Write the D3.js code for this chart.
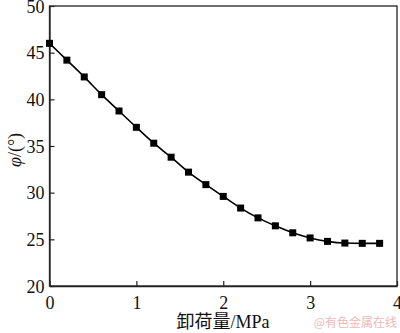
<!DOCTYPE html>
<html>
<head>
<meta charset="utf-8">
<script src="https://cdn.jsdelivr.net/npm/d3@7"></script>
<style>
  body { margin: 0; background: #fff; }
  svg text { font-family: "Liberation Serif", "Times New Roman", "Noto Sans CJK SC", serif; }
</style>
</head>
<body>
<div id="chart"></div>
<script>
const WIDTH = 400;
const HEIGHT = 333;

// unloading amount (MPa) and friction angle (deg)
const unload = [0, 0.2, 0.4, 0.6, 0.8, 1.0, 1.2, 1.4, 1.6, 1.8, 2.0, 2.2, 2.4, 2.6, 2.8, 3.0, 3.2, 3.4, 3.6, 3.8];
const phi = [46.0, 44.2, 42.4, 40.5, 38.75, 37.0, 35.3, 33.8, 32.2, 30.86, 29.6, 28.35, 27.3, 26.45, 25.7, 25.15, 24.78, 24.6, 24.57, 24.57];
const xTicks = [0, 1, 2, 3, 4];
const yTicks = [20, 25, 30, 35, 40, 45, 50];

const margin = {left: 49.5, right: 3, top: 6, bottom: 47};

const svg = d3.select('#chart').append('svg')
  .attr('width', WIDTH)
  .attr('height', HEIGHT);

const x = d3.scaleLinear().domain([0, 4]).range([margin.left, WIDTH - margin.right]);
const y = d3.scaleLinear().domain([20, 50]).range([HEIGHT - margin.bottom, margin.top]);

// 边框
svg.append('rect')
  .attr('x', x(0)).attr('y', y(50))
  .attr('width', x(4) - x(0)).attr('height', y(20) - y(50))
  .attr('fill', 'none')
  .attr('stroke', '#222')
  .attr('stroke-width', 1.3);

// 坐标轴（刻度朝内）
const xAxis = svg.append('g')
  .attr('transform', 'translate(0,' + y(20) + ')')
  .call(d3.axisBottom(x).tickValues(xTicks).tickSizeInner(-5).tickSizeOuter(0).tickPadding(10).tickFormat(d3.format('d')));
const yAxis = svg.append('g')
  .attr('transform', 'translate(' + x(0) + ',0)')
  .call(d3.axisLeft(y).tickValues(yTicks).tickSizeInner(-5).tickSizeOuter(0).tickPadding(5).tickFormat(d3.format('d')));

[xAxis, yAxis].forEach(a => {
  a.select('.domain').attr('stroke', '#222').attr('stroke-width', 1.3);
  a.selectAll('.tick line').attr('stroke', '#222').attr('stroke-width', 1.2);
  a.selectAll('.tick text')
    .attr('fill', '#111')
    .style('font-size', '18px')
    .style('font-family', '"Liberation Serif", serif');
});
yAxis.selectAll('.tick text').attr('dy', '0.35em');

// 折线
const pts = unload.map((d, i) => ({x: d, y: phi[i]}));
svg.append('path')
  .datum(pts)
  .attr('fill', 'none')
  .attr('stroke', '#000')
  .attr('stroke-width', 1.6)
  .attr('d', d3.line().x(d => x(d.x)).y(d => y(d.y)).curve(d3.curveMonotoneX));

// 方块标记
const s = 7;
svg.append('g')
  .selectAll('rect')
  .data(pts)
  .enter()
  .append('rect')
  .attr('x', d => x(d.x) - s / 2)
  .attr('y', d => y(d.y) - s / 2)
  .attr('width', s)
  .attr('height', s)
  .attr('fill', '#000');

// 轴标题
svg.append('text')
  .attr('x', 223)
  .attr('y', 328)
  .attr('text-anchor', 'middle')
  .style('font-size', '18px')
  .attr('fill', '#111')
  .text('卸荷量/MPa');

const yl = svg.append('text')
  .attr('transform', 'translate(21,' + ((y(20) + y(50)) / 2 + 4) + ') rotate(-90)')
  .attr('text-anchor', 'middle')
  .style('font-size', '18px')
  .attr('fill', '#111');
yl.append('tspan').style('font-style', 'italic').text('φ');
yl.append('tspan').text('/(°)');

// 水印
svg.append('text')
  .attr('x', 397)
  .attr('y', 327)
  .attr('text-anchor', 'end')
  .style('font-size', '12px')
  .style('font-family', '"Noto Sans CJK SC", sans-serif')
  .attr('fill', '#f0b8b8')
  .text('@有色金属在线');
</script>
</body>
</html>
